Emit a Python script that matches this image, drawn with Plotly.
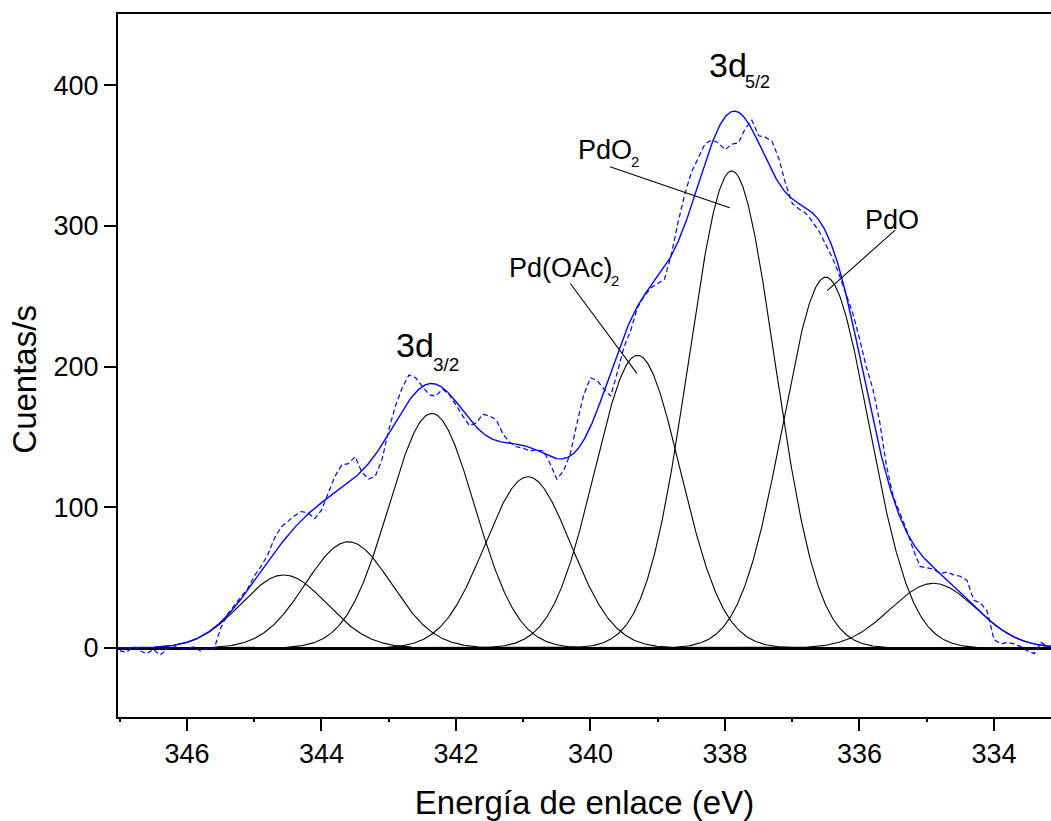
import numpy as np
import plotly.graph_objects as go

# Pd 3d XPS spectrum: measured counts on a 0.1 eV binding-energy grid
BE_START = 347.0
BE_STEP = 0.1
counts = [
    -2, -3, 1, -2, -4, -1, -5, -1, 1, 0,
    -1, 1, -2, 0, -1, 14, 24, 30, 36, 42,
    51, 58, 66, 78, 86, 90, 94, 97, 96, 92,
    98, 110, 122, 130, 131, 136, 125, 120, 122, 134,
    155, 172, 185, 194, 192, 186, 180, 179, 184, 180,
    172, 165, 158, 160, 166, 165, 162, 152, 146, 143,
    142, 140, 141, 140, 131, 120, 126, 138, 160, 180,
    192, 190, 184, 179, 196, 214, 226, 242, 250, 256,
    259, 262, 279, 302, 322, 338, 348, 358, 361, 359,
    354, 358, 359, 369, 375, 364, 363, 360, 348, 330,
    316, 312, 309, 303, 296, 286, 277, 265, 251, 238,
    220, 200, 184, 161, 130, 108, 96, 84, 70, 58,
    57, 56, 53, 54, 52, 51, 48, 34, 32, 26,
    6, 3, 4, 3, 1, -2, -4, 4, 1,
]

# Gaussian components of the fit: centre (eV), height (counts/s), FWHM (eV)
peak_centers = [344.56, 343.60, 342.36, 340.93, 339.30, 337.90, 336.50, 334.90]
peak_heights = [51.9, 75.5, 166.7, 121.7, 208.0, 339.0, 263.5, 46.0]
peak_fwhm = [1.50, 1.50, 1.50, 1.50, 1.50, 1.50, 1.50, 1.50]

be = BE_START - BE_STEP * np.arange(len(counts))
be_fine = np.linspace(347.2, 333.0, 1421)


def gaussian(x, center, height, fwhm):
    sigma = fwhm / (2.0 * np.sqrt(2.0 * np.log(2.0)))
    return height * np.exp(-((x - center) ** 2) / (2.0 * sigma ** 2))


components = [gaussian(be_fine, c, h, w)
              for c, h, w in zip(peak_centers, peak_heights, peak_fwhm)]
envelope = np.sum(components, axis=0)

FONT = "Liberation Sans, Arial, Helvetica, sans-serif"

fig = go.Figure()

for comp in components:
    fig.add_trace(go.Scatter(
        x=be_fine, y=comp, mode="lines",
        line=dict(color="black", width=1.1),
        hoverinfo="skip", showlegend=False,
    ))

fig.add_trace(go.Scatter(
    x=be, y=counts, mode="lines",
    line=dict(color="#0000FF", width=1.2, dash="5px,3px"),
    showlegend=False,
))

fig.add_trace(go.Scatter(
    x=be_fine, y=envelope, mode="lines",
    line=dict(color="#0000FF", width=1.4),
    showlegend=False,
))


def label(x, y, text, size):
    return dict(x=x, y=y, text=text, xref="x", yref="y", showarrow=False,
                xanchor="left", yanchor="bottom",
                font=dict(family=FONT, size=size, color="black"))


# Peak labels; subscripts are set as separate, smaller, lowered texts
annotations = [
    label(342.92, 200.4, "3d", 34),
    label(342.372, 192.4, "3/2", 19),
    label(338.268, 399.3, "3d", 34),
    label(337.732, 393.8, "5/2", 18),
    label(340.21, 341.6, "PdO", 27),
    label(339.428, 337.9, "2", 15),
    label(341.242, 257.6, "Pd(OAc)", 27),
    label(339.729, 253.9, "2", 15),
    label(335.95, 291.9, "PdO", 27),
    dict(x=-0.1, y=0.4808, xref="paper", yref="paper", showarrow=False,
         text="Cuentas/s", textangle=-90, xanchor="center", yanchor="middle",
         font=dict(family=FONT, size=33, color="black")),
]

leaders = [
    ((339.71, 342.0), (337.93, 312.8)),
    ((340.30, 259.0), (339.31, 195.2)),
    ((335.47, 297.0), (336.48, 253.9)),
]
shapes = [
    dict(type="line", xref="x", yref="y", x0=p0[0], y0=p0[1],
         x1=p1[0], y1=p1[1], line=dict(color="black", width=1.1))
    for p0, p1 in leaders
]

fig.update_layout(
    width=1051, height=821,
    margin=dict(l=118, r=0, t=14, b=104),
    paper_bgcolor="white", plot_bgcolor="white",
    font=dict(family=FONT, size=27, color="black"),
    annotations=annotations,
    shapes=shapes,
    showlegend=False,
)

fig.update_xaxes(
    range=[347.026, 333.152],
    tickmode="array",
    tickvals=[346, 344, 342, 340, 338, 336, 334],
    ticks="outside", ticklen=12, tickwidth=2, tickcolor="black",
    minor=dict(dtick=1, tick0=333, ticks="outside", ticklen=3,
               tickwidth=1.5, tickcolor="black"),
    showline=True, linecolor="black", linewidth=2, mirror=True,
    showgrid=False, zeroline=False,
    tickfont=dict(family=FONT, size=27),
    title=dict(text="Energía de enlace (eV)",
               font=dict(family=FONT, size=33), standoff=24),
)

fig.update_yaxes(
    range=[-49.0, 450.5],
    tickmode="array",
    tickvals=[0, 100, 200, 300, 400],
    ticks="outside", ticklen=12, tickwidth=2, tickcolor="black",
    showline=True, linecolor="black", linewidth=2, mirror=False,
    showgrid=False,
    zeroline=True, zerolinecolor="black", zerolinewidth=2.5,
    tickfont=dict(family=FONT, size=27),
)

fig.write_html("out.html")
